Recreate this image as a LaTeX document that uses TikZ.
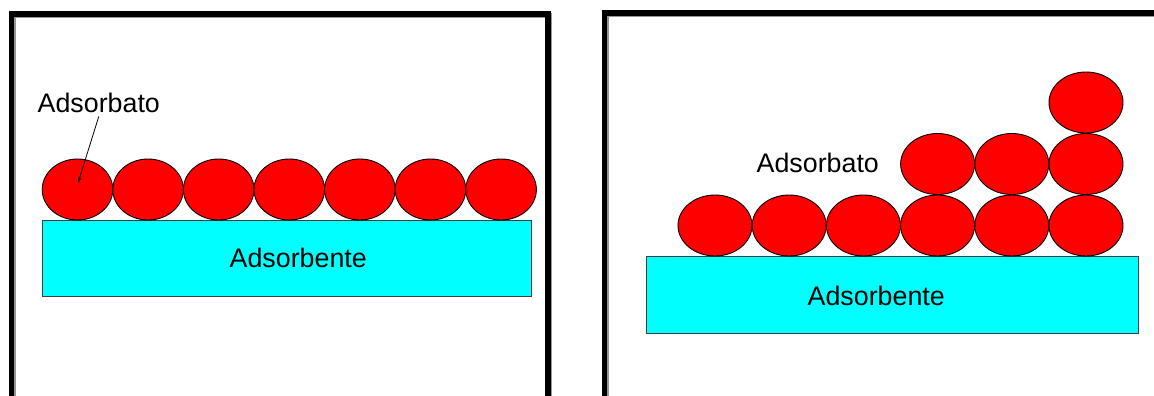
\documentclass[tikz,border=0pt]{standalone}
\usepackage{fontspec}
\setmainfont{Liberation Sans}
\usetikzlibrary{shapes.geometric,arrows.meta}
\definecolor{ballred}{RGB}{255,0,0}
\definecolor{substr}{RGB}{0,255,255}
\definecolor{shadowgray}{RGB}{150,150,150}
\tikzset{
  ball/.style={ellipse,draw=black,line width=0.9pt,fill=ballred,inner sep=0pt,minimum height=61pt},
  slab/.style={rectangle,draw=black!75,line width=1pt,fill=substr,inner sep=0pt},
  lbl/.style={font=\fontsize{26.8}{29}\selectfont,inner sep=0pt,anchor=base west},
  framebar/.style={line width=5.5pt,line cap=butt,line join=miter},
  frameshadow/.style={line width=5.5pt,draw=shadowgray,line join=miter}
}
\begin{document}
\begin{tikzpicture}[x=1pt,y=-1pt]
\useasboundingbox (0,0) rectangle (1154,396);
% frames
\draw[frameshadow] (13,400) -- (13,15.5) -- (549.5,15.5) -- (549.5,400);
\draw[framebar] (11.5,400) -- (11.5,14) -- (548,14) -- (548,400);
\draw[frameshadow] (606,400) -- (606,14.5) -- (1160,14.5);
\draw[framebar] (604.5,400) -- (604.5,13) -- (1160,13);
% left panel
\node[slab,minimum width=489pt,minimum height=76pt] (sub1) at (286.5,258) {};
\foreach \i in {0,...,6}{
  \node[ball,minimum width=70.6pt] (a\i) at ({77.5+70.6*\i},189.5) {};
}
\node[lbl] (t1) at (37.5,112) {Adsorbato};
\node[lbl] (s1) at (229.5,267) {Adsorbente};
\coordinate (tip1) at (78,183);
\draw[line width=0.8pt,-{Stealth[length=6pt,width=3.5pt]}] ([xshift=0pt,yshift=-4pt]t1.south) -- (tip1);
% right panel
\node[slab,minimum width=492pt,minimum height=77pt] (sub2) at (892,294.5) {};
\foreach \i in {0,...,5}{
  \node[ball,minimum width=74pt] (b\i) at ({715+74.2*\i},225.5) {};
}
\foreach \i in {3,4,5}{
  \node[ball,minimum width=74pt] (c\i) at ({715+74.2*\i},164) {};
}
\node[ball,minimum width=74pt] (d5) at ({715+74.2*5},102.5) {};
\node[lbl] (t2) at (756.5,172) {Adsorbato};
\node[lbl] (s2) at (807.5,305) {Adsorbente};
\end{tikzpicture}
\end{document}
